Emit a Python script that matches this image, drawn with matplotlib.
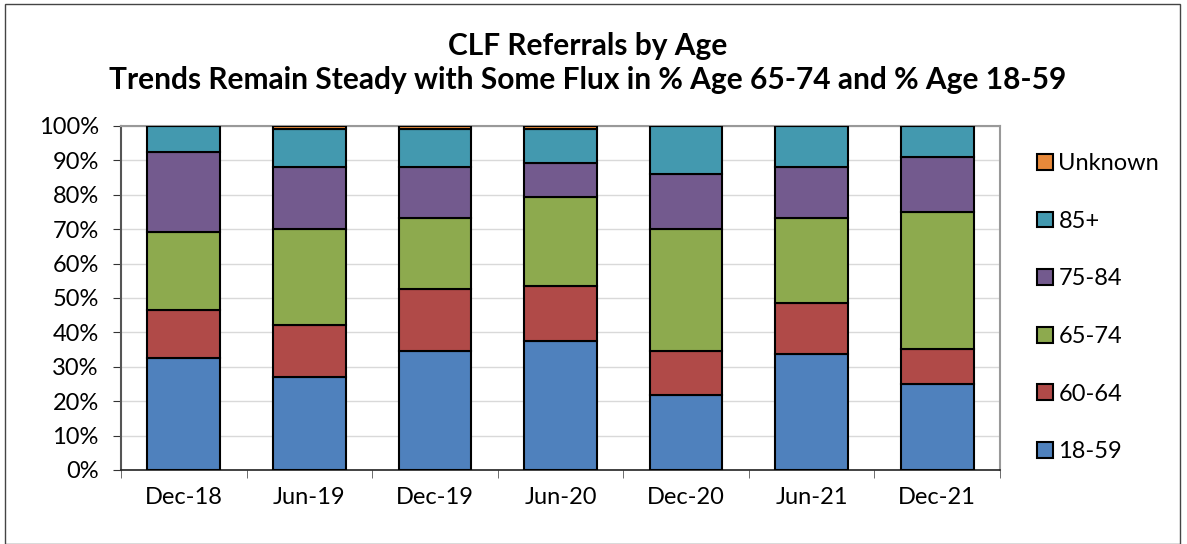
import matplotlib.pyplot as plt
import numpy as np
from matplotlib.patches import Rectangle

categories = ["Dec-18", "Jun-19", "Dec-19", "Jun-20", "Dec-20", "Jun-21", "Dec-21"]
age_18_59 = [32.6, 27.0, 34.6, 37.5, 21.8, 33.7, 25.0]
age_60_64 = [14.0, 15.2, 18.0, 16.0, 12.8, 14.8, 10.2]
age_65_74 = [22.7, 27.8, 20.7, 25.9, 35.5, 24.8, 39.8]
age_75_84 = [23.0, 18.1, 14.8, 9.8, 15.9, 14.8, 16.0]
age_85p = [7.7, 11.0, 11.0, 9.9, 14.0, 11.9, 9.0]
unknown = [0.0, 0.9, 0.9, 0.9, 0.0, 0.0, 0.0]

series = [("18-59", age_18_59, "#4F81BD"),
          ("60-64", age_60_64, "#B04A48"),
          ("65-74", age_65_74, "#8DAA4E"),
          ("75-84", age_75_84, "#735A8E"),
          ("85+", age_85p, "#4399AF"),
          ("Unknown", unknown, "#E8893A")]

plt.rcParams['font.family'] = ['Lato', 'DejaVu Sans']

fig = plt.figure(figsize=(11.87, 5.44), dpi=100)
ax = fig.add_axes([121/1187, 1-470/544, (1000-121)/1187, 344/544])

x = np.arange(len(categories))
bottom = np.zeros(len(categories))
handles = []
for name, vals, col in series:
    v = np.array(vals)
    b = ax.bar(x, v, 0.58, bottom=bottom, color=col, edgecolor='black', linewidth=1.5, label=name, zorder=3)
    handles.append(b)
    bottom += v

ax.set_xlim(-0.5, len(categories) - 0.5)
ax.set_ylim(0, 100)
ax.set_yticks(np.arange(0, 101, 10))
ax.set_yticklabels([f"{t}%" for t in range(0, 101, 10)], fontsize=17)
ax.set_xticks(x)
ax.set_xticklabels(categories, fontsize=17)
ax.set_xticks(np.arange(-0.5, len(categories), 1), minor=True)
ax.tick_params(axis='x', which='major', length=0, pad=12)
ax.tick_params(axis='x', which='minor', length=6, color='#555555')
ax.tick_params(axis='y', length=6, color='#333333', pad=10)
ax.yaxis.grid(True, color='#D9D9D9', linewidth=1, zorder=0)
for s in ['top', 'right']:
    ax.spines[s].set_color('#999999')
    ax.spines[s].set_linewidth(1.5)
ax.spines['left'].set_color('#555555')
ax.spines['left'].set_linewidth(1.5)
ax.spines['bottom'].set_color('#222222')
ax.spines['bottom'].set_linewidth(1.2)

leg = fig.legend(handles[::-1], [s[0] for s in series][::-1], loc='upper left',
                 bbox_to_anchor=(1016/1187, 1-132/544), frameon=False, fontsize=17,
                 handlelength=0.65, handleheight=0.65, handletextpad=0.25, labelspacing=1.55)

fig.text(588/1187, 1-46/544, "CLF Referrals by Age", ha='center', va='center',
         fontsize=21.5, fontweight='bold')
fig.text(588/1187, 1-80/544, "Trends Remain Steady with Some Flux in % Age 65-74 and % Age 18-59",
         ha='center', va='center', fontsize=21.5, fontweight='bold')

fig.patches.append(Rectangle((5/1187, 0), 1175/1187, 1-4/544, transform=fig.transFigure,
                             fill=False, edgecolor='#444444', linewidth=1))

fig.savefig("out.png", dpi=100)
